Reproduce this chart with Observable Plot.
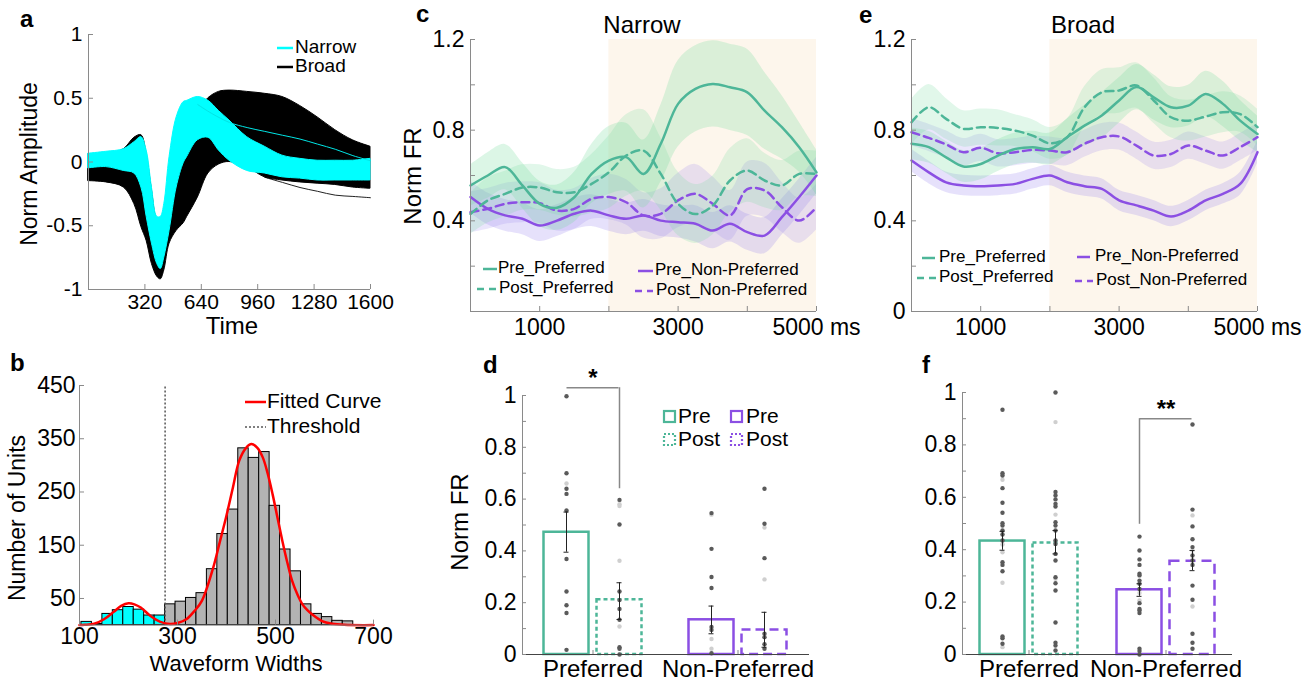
<!DOCTYPE html>
<html><head><meta charset="utf-8">
<script src="https://cdn.jsdelivr.net/npm/d3@7"></script>
<script src="https://cdn.jsdelivr.net/npm/@observablehq/plot@0.6"></script>
<style>
body{margin:0;background:#fff;}
#fig{position:relative;width:1316px;height:684px;overflow:hidden;background:#fff;}
</style></head><body><div id="fig"></div>
<script>
// ---------------- DATA ----------------
// Panel a: waveform envelopes (Norm Amplitude vs Time)
const waveT = [0,100,200,260,300,330,360,390,410,430,460,500,540,560,620,680,740,800,900,1000,1100,1200,1300,1400,1500,1600];
const broadUpper = [0.06,0.06,0.10,0.19,0.21,0.06,-0.22,-0.45,-0.46,-0.38,-0.15,0.20,0.30,0.32,0.40,0.50,0.55,0.56,0.55,0.535,0.51,0.44,0.35,0.25,0.17,0.12];
const broadLower = [-0.15,-0.16,-0.20,-0.33,-0.51,-0.62,-0.80,-0.90,-0.92,-0.85,-0.64,-0.54,-0.48,-0.43,-0.28,-0.09,-0.02,0.0,-0.04,-0.12,-0.145,-0.16,-0.17,-0.18,-0.20,-0.21];
const narrowUpper = [0.065,0.08,0.10,0.155,0.195,0.09,-0.20,-0.43,-0.43,-0.33,0.04,0.35,0.47,0.48,0.51,0.48,0.40,0.325,0.195,0.12,0.05,0.025,0.01,0.01,0.01,0.025];
const narrowLower = [-0.05,-0.04,-0.07,-0.09,-0.20,-0.43,-0.64,-0.80,-0.84,-0.75,-0.54,-0.20,-0.01,0.04,0.17,0.19,0.09,0.01,-0.07,-0.09,-0.12,-0.13,-0.145,-0.145,-0.145,-0.145];
const strayT = [620,700,800,900,1000,1100,1200,1300,1400,1500,1600];
const strayCyan = [0.45,0.38,0.31,0.27,0.24,0.21,0.18,0.14,0.10,0.05,0.01];
const strayBlackT = [1000,1100,1200,1300,1400,1500,1600];
const strayBlack = [-0.12,-0.16,-0.20,-0.23,-0.26,-0.27,-0.28];
const aXTicks = [320,640,960,1280,1600];
const aXLabels = ["320","640","960","1280","1600"];
const aYTicks = [-1,-0.5,0,0.5,1];
const aYLabels = ["-1","-0.5","0","0.5","1"];

// Panel b: histogram of waveform widths
const binEdges = [104,125.3,146.7,168,189.3,210.7,232,253.3,274.7,296,317.3,338.7,360,381.3,402.7,424,445.3,466.7,488,509.3,530.7,552,573.3,594.7,616,637.3,658.7];
const binCounts = [6,2,21,28,34,29,18,18,39,44,51,60,105,171,217,332,314,325,224,142,101,39,21,15,8,7];
const threshold = 274.7;
const fitX = [100,110,130,150,170,185,200,212,225,245,265,285,300,318,335,350,372,386,399,413,426,440,451,463,474,484,494,504,514,524,534,545,555,565,575,595,616,640,700];
const fitY = [0,0.6,2.5,11,25,36,41,39,33,17,6,2,4,11,27,46,105,155,202,258,309,333,340,333,315,285,246,202,158,118,83,57,39,28,20,7.5,2.5,0.5,0];
const bXTicks = [100,300,500,700];
const bYTicks = [50,150,250,350,450];

// Panels c, e: firing rate time courses
const timeMs = [0,250,500,750,1000,1250,1500,1750,2000,2250,2500,2750,3000,3250,3500,3750,4000,4250,4500,4750,5000];
const stimOn = 2000, stimOff = 5000;
const nPrePref = [0.556,0.60,0.637,0.556,0.475,0.458,0.504,0.607,0.666,0.681,0.607,0.74,0.916,0.982,1.004,0.989,0.967,0.886,0.813,0.725,0.614];
const nPostPref = [0.43,0.49,0.519,0.547,0.547,0.526,0.526,0.563,0.614,0.688,0.71,0.607,0.475,0.43,0.467,0.578,0.622,0.578,0.556,0.607,0.607];
const nPreNon = [0.505,0.453,0.424,0.409,0.379,0.401,0.431,0.445,0.424,0.409,0.424,0.401,0.394,0.387,0.357,0.387,0.35,0.335,0.416,0.505,0.60];
const nPostNon = [0.438,0.453,0.475,0.482,0.478,0.445,0.453,0.497,0.505,0.482,0.424,0.431,0.49,0.519,0.475,0.424,0.54,0.534,0.46,0.401,0.46];
const nPrePrefSem = [0.09,0.10,0.10,0.10,0.10,0.10,0.11,0.13,0.15,0.15,0.15,0.17,0.19,0.19,0.19,0.19,0.19,0.17,0.14,0.11,0.10];
const nPostPrefSem = [0.09,0.10,0.10,0.10,0.10,0.10,0.11,0.13,0.16,0.18,0.18,0.16,0.14,0.13,0.13,0.14,0.14,0.12,0.11,0.10,0.10];
const nPreNonSem = [0.07,0.07,0.07,0.07,0.07,0.07,0.07,0.07,0.07,0.07,0.07,0.07,0.07,0.08,0.08,0.08,0.08,0.08,0.08,0.08,0.08];
const nPostNonSem = [0.09,0.09,0.09,0.09,0.09,0.09,0.09,0.09,0.10,0.10,0.10,0.11,0.12,0.13,0.12,0.11,0.12,0.12,0.11,0.10,0.10];
const bPrePref = [0.74,0.725,0.68,0.64,0.651,0.688,0.717,0.725,0.717,0.769,0.82,0.865,0.931,0.99,0.945,0.901,0.908,0.96,0.916,0.842,0.783];
const bPostPref = [0.835,0.901,0.85,0.806,0.813,0.81,0.798,0.776,0.742,0.769,0.901,0.967,0.975,0.997,0.931,0.857,0.842,0.86,0.879,0.871,0.813];
const bPreNon = [0.666,0.614,0.57,0.556,0.553,0.556,0.563,0.585,0.6,0.57,0.553,0.541,0.49,0.468,0.445,0.419,0.445,0.49,0.519,0.563,0.703];
const bPostNon = [0.791,0.766,0.737,0.703,0.722,0.698,0.703,0.713,0.71,0.703,0.74,0.769,0.772,0.732,0.688,0.695,0.732,0.71,0.688,0.725,0.769];
const bPrePrefSem = [0.07,0.07,0.07,0.07,0.07,0.07,0.07,0.07,0.07,0.08,0.09,0.10,0.10,0.10,0.10,0.09,0.09,0.10,0.10,0.09,0.08];
const bPostPrefSem = [0.10,0.10,0.09,0.08,0.08,0.08,0.07,0.07,0.07,0.08,0.09,0.10,0.10,0.10,0.10,0.09,0.09,0.09,0.09,0.08,0.08];
const bPreNonSem = [0.05,0.05,0.045,0.045,0.045,0.045,0.045,0.045,0.045,0.045,0.045,0.045,0.045,0.045,0.045,0.045,0.045,0.045,0.045,0.05,0.05];
const bPostNonSem = [0.06,0.06,0.06,0.06,0.06,0.06,0.06,0.06,0.06,0.06,0.06,0.06,0.06,0.06,0.06,0.06,0.06,0.06,0.06,0.06,0.06];
const lineXTicks = [1000,2000,3000,4000,5000];
const lineXLabels = ["1000","","3000","","5000 ms"];
const lineYTicks = [0,0.2,0.4,0.6,0.8,1.0,1.2];
const cYLabels = ["","","0.4","","0.8","","1.2"];
const eYLabels = ["0","","0.4","","0.8","","1.2"];

// Panels d, f: bar charts
const groups = ["Preferred","Non-Preferred"];
const dPreMean = [0.472,0.134], dPostMean = [0.211,0.095];
const dPreLo = [0.395,0.08], dPreHi = [0.55,0.187];
const dPostLo = [0.135,0.028], dPostHi = [0.277,0.163];
const dPrePrefDots = [0.997,0.70,0.64,0.62,0.556,0.369,0.243,0.19,0.16,0.018];
const dPrePrefLight = [0.66];
const dPostPrefDots = [0.597,0.502,0.243,0.21,0.176,0.134,0.028,0.022,0.0];
const dPostPrefLight = [0.58,0.573,0.362,0.108];
const dPreNonDots = [0.546,0.408,0.299,0.257,0.106,0.095,0.005];
const dPreNonLight = [0.54,0.06,0.022];
const dPostNonDots = [0.64,0.505,0.372,0.08,0.067,0.04,0.022];
const dPostNonLight = [0.49,0.29];
const dSig = {y: 1.03, drop: 0.64, label: "*"};

const fPreMean = [0.433,0.247], fPostMean = [0.426,0.356];
const fPreLo = [0.398,0.222], fPreHi = [0.47,0.27];
const fPostLo = [0.384,0.32], fPostHi = [0.473,0.397];
const fPrePrefDots = [0.934,0.692,0.683,0.635,0.579,0.541,0.501,0.492,0.473,0.458,0.435,0.352,0.342,0.318,0.069,0.062,0.041];
const fPrePrefLight = [0.667,0.42,0.39,0.274,0.028];
const fPostPrefDots = [1.0,0.62,0.607,0.592,0.575,0.565,0.505,0.492,0.473,0.435,0.422,0.384,0.359,0.295,0.272,0.244,0.122,0.045,0.034,0.015];
const fPostPrefLight = [0.887,0.534,0.289];
const fPreNonDots = [0.45,0.397,0.363,0.342,0.308,0.302,0.282,0.27,0.25,0.196,0.174,0.168,0.158,0.022,0.013,0.0];
const fPreNonLight = [0.235,0.206];
const fPostNonDots = [0.878,0.553,0.489,0.44,0.41,0.378,0.359,0.342,0.263,0.209,0.079,0.045,0.022];
const fPostNonLight = [0.531,0.397,0.183];
const fSig = {y: 0.90, drop: 0.497, label: "**"};
const barYTicks = [0,0.1,0.2,0.3,0.4,0.5,0.6,0.7,0.8,0.9,1];
const barYLabels = ["0","","0.2","","0.4","","0.6","","0.8","","1"];

// ---------------- STYLE ----------------
const FONT = '"Liberation Sans", Arial, Helvetica, sans-serif';
const GREEN = "#4db698", PURPLE = "#8b4fe3", AXIS = "#8a8a8a";
const GREEN_BAND = "#78dca0", PURPLE_BAND = "#9682f0";
const fig = document.getElementById("fig");

function place(el, left, top) {
  el.style.position = "absolute"; el.style.left = left + "px"; el.style.top = top + "px";
  fig.appendChild(el);
}
function style(fs) { return {fontFamily: FONT, fontSize: fs + "px", color: "#000", overflow: "visible", background: "none"}; }
function fmt(ticks, labels) { const m = new Map(ticks.map((t, i) => [t, labels[i]])); return d => m.get(d) ?? ""; }
function axX(ticks, labels, o = {}) { return Plot.axisX(ticks, {tickSize: -5, tickPadding: 10, tickFormat: fmt(ticks, labels), stroke: AXIS, label: null, ...o}); }
function axY(ticks, labels, o = {}) { return Plot.axisY(ticks, {tickSize: -5, tickPadding: 11, tickFormat: fmt(ticks, labels), stroke: AXIS, label: null, ...o}); }

// ---------------- PANEL a ----------------
const aRows = waveT.map((t, i) => ({t, bu: broadUpper[i], bl: broadLower[i], nu: narrowUpper[i], nl: narrowLower[i]}));
const strayRows = strayT.map((t, i) => ({t, v: strayCyan[i]}));
const strayBlackRows = strayBlackT.map((t, i) => ({t, v: strayBlack[i]}));
place(Plot.plot({
  width: 400, height: 340, marginLeft: 88, marginRight: 30, marginTop: 34, marginBottom: 51,
  x: {domain: [0, 1600], label: null}, y: {domain: [-1, 1], label: null},
  style: style(21),
  marks: [
    Plot.line(strayBlackRows, {x: "t", y: "v", stroke: "#222", strokeWidth: 1, curve: "catmull-rom"}),
    Plot.areaY(aRows, {x: "t", y1: "bl", y2: "bu", fill: "#000", stroke: "#000", strokeWidth: 1, curve: "catmull-rom"}),
    Plot.areaY(aRows, {x: "t", y1: "nl", y2: "nu", fill: "#00ffff", stroke: "#00ffff", strokeWidth: 1, curve: "catmull-rom"}),
    Plot.line(strayRows, {x: "t", y: "v", stroke: "#00e5e5", strokeWidth: 1, curve: "catmull-rom"}),
    Plot.ruleX([aXTicks[0] - 320], {stroke: AXIS}),
    Plot.ruleY([aYTicks[0]], {stroke: AXIS}),
    axX(aXTicks, aXLabels),
    axY(aYTicks, aYLabels)
  ]
}), 0, 0);

// ---------------- PANEL b ----------------
const binRows = binCounts.map((c, i) => ({x1: binEdges[i], x2: binEdges[i + 1], c}));
const fitRows = fitX.map((x, i) => ({x, y: fitY[i]}));
place(Plot.plot({
  width: 400, height: 344, marginLeft: 79, marginRight: 27, marginTop: 45, marginBottom: 59.4,
  x: {domain: [100, 700], label: null}, y: {domain: [0, 450], label: null},
  style: style(23),
  marks: [
    Plot.rectY(binRows.filter(d => d.x2 <= threshold + 0.5), {x1: "x1", x2: "x2", y: "c", fill: "#00ffff", stroke: "#000", strokeWidth: 1}),
    Plot.rectY(binRows.filter(d => d.x2 > threshold + 0.5), {x1: "x1", x2: "x2", y: "c", fill: "#b3b3b3", stroke: "#000", strokeWidth: 1}),
    Plot.ruleX([threshold], {y1: 0, y2: 450, stroke: "#555", strokeWidth: 1.5, strokeDasharray: "2,2"}),
    Plot.line(fitRows, {x: "x", y: "y", stroke: "#ff0000", strokeWidth: 2.5, curve: "catmull-rom"}),
    Plot.ruleX([100], {stroke: AXIS}),
    Plot.ruleY([0], {stroke: AXIS}),
    axX(bXTicks, bXTicks.map(String), {tickPadding: 8}),
    axY(bYTicks, bYTicks.map(String), {tickPadding: 9})
  ]
}), 0, 340);

// ---------------- PANELS c, e ----------------
function series(vals, sems) { return timeMs.map((t, i) => ({t, v: vals[i], lo: vals[i] - sems[i], hi: vals[i] + sems[i]})); }
function linePanel(prePref, postPref, preNon, postNon, yLabels, ml, mr, w) {
  const curve = "catmull-rom";
  return Plot.plot({
    width: w, height: 340, marginLeft: ml, marginRight: mr, marginTop: 39, marginBottom: 29,
    x: {domain: [0, 5000], label: null}, y: {domain: [0, 1.2], label: null},
    style: style(23),
    marks: [
      Plot.rect([{x1: stimOn, x2: stimOff}], {x1: "x1", x2: "x2", y1: 0, y2: 1.2, fill: "#fdf6ec"}),
      Plot.areaY(preNon, {x: "t", y1: "lo", y2: "hi", fill: PURPLE_BAND, fillOpacity: 0.24, curve}),
      Plot.areaY(postNon, {x: "t", y1: "lo", y2: "hi", fill: PURPLE_BAND, fillOpacity: 0.2, curve}),
      Plot.areaY(prePref, {x: "t", y1: "lo", y2: "hi", fill: GREEN_BAND, fillOpacity: 0.26, curve}),
      Plot.areaY(postPref, {x: "t", y1: "lo", y2: "hi", fill: GREEN_BAND, fillOpacity: 0.22, curve}),
      Plot.line(preNon, {x: "t", y: "v", stroke: PURPLE, strokeWidth: 2.5, curve}),
      Plot.line(postNon, {x: "t", y: "v", stroke: PURPLE, strokeWidth: 2.5, strokeDasharray: "8,5", curve}),
      Plot.line(prePref, {x: "t", y: "v", stroke: GREEN, strokeWidth: 2.5, curve}),
      Plot.line(postPref, {x: "t", y: "v", stroke: GREEN, strokeWidth: 2.5, strokeDasharray: "8,5", curve}),
      Plot.ruleX([0], {stroke: AXIS}),
      Plot.ruleY([0], {stroke: AXIS}),
      axX(lineXTicks, lineXLabels, {tickPadding: 12}),
      axY(lineYTicks, yLabels)
    ]
  });
}
place(linePanel(series(nPrePref, nPrePrefSem), series(nPostPref, nPostPrefSem), series(nPreNon, nPreNonSem), series(nPostNon, nPostNonSem), cYLabels, 70, 24, 440), 400, 0);
place(linePanel(series(bPrePref, bPrePrefSem), series(bPostPref, bPostPrefSem), series(bPreNon, bPreNonSem), series(bPostNon, bPostNonSem), eYLabels, 71, 59, 476), 840, 0);

// ---------------- PANELS d, f ----------------
function barPanel(c) {
  const W = 110, off = 26.5, half = 23, cap = 3;
  const rows = (means, lo, hi) => groups.map((g, i) => ({g, m: means[i], lo: lo[i], hi: hi[i]}));
  const pre = rows(c.preMean, c.preLo, c.preHi), post = rows(c.postMean, c.postLo, c.postHi);
  const preIns = {insetLeft: W / 2 - off - half, insetRight: W / 2 + off - half};
  const postIns = {insetLeft: W / 2 + off - half, insetRight: W / 2 - off - half};
  const dots = (vals, g, dx, fill) => Plot.dot(vals.map(v => ({g, v})), {x: "g", y: "v", dx, r: 2.2, fill, stroke: "none"});
  const marks = [
    Plot.barY([pre[0]], {x: "g", y: "m", ...preIns, fill: "none", stroke: GREEN, strokeWidth: 2.5}),
    Plot.barY([post[0]], {x: "g", y: "m", ...postIns, fill: "none", stroke: GREEN, strokeWidth: 2.5, strokeDasharray: "4,3"}),
    Plot.barY([pre[1]], {x: "g", y: "m", ...preIns, fill: "none", stroke: PURPLE, strokeWidth: 2.5}),
    Plot.barY([post[1]], {x: "g", y: "m", ...postIns, fill: "none", stroke: PURPLE, strokeWidth: 2.5, strokeDasharray: c.postNonDash}),
    dots(c.prePrefLight, groups[0], -off, "#cfcfcf"), dots(c.postPrefLight, groups[0], off, "#cfcfcf"),
    dots(c.preNonLight, groups[1], -off, "#cfcfcf"), dots(c.postNonLight, groups[1], off, "#cfcfcf"),
    dots(c.prePrefDots, groups[0], -off, "#5a5a5a"), dots(c.postPrefDots, groups[0], off, "#5a5a5a"),
    dots(c.preNonDots, groups[1], -off, "#5a5a5a"), dots(c.postNonDots, groups[1], off, "#5a5a5a"),
    Plot.ruleX(pre, {x: "g", y1: "lo", y2: "hi", dx: -off, stroke: "#222", strokeWidth: 1}),
    Plot.ruleX(post, {x: "g", y1: "lo", y2: "hi", dx: off, stroke: "#222", strokeWidth: 1}),
    Plot.tickY(pre, {x: "g", y: "lo", insetLeft: W / 2 - off - cap, insetRight: W / 2 + off - cap, stroke: "#222"}),
    Plot.tickY(pre, {x: "g", y: "hi", insetLeft: W / 2 - off - cap, insetRight: W / 2 + off - cap, stroke: "#222"}),
    Plot.tickY(post, {x: "g", y: "lo", insetLeft: W / 2 + off - cap, insetRight: W / 2 - off - cap, stroke: "#222"}),
    Plot.tickY(post, {x: "g", y: "hi", insetLeft: W / 2 + off - cap, insetRight: W / 2 - off - cap, stroke: "#222"}),
    // significance bracket
    Plot.tickY([{g: c.sigGroup, y: c.sig.y}], {x: "g", y: "y", insetLeft: W / 2 - off, insetRight: W / 2 - off, stroke: "#888", strokeWidth: 1.5}),
    Plot.ruleX([{g: c.sigGroup, y1: c.sig.drop, y2: c.sig.y}], {x: "g", y1: "y1", y2: "y2", dx: c.sigSide * off, stroke: "#888", strokeWidth: 1.5}),
    Plot.text([{g: c.sigGroup, y: c.sig.y, s: c.sig.label}], {x: "g", y: "y", text: "s", dy: -9, fontSize: 24, fontWeight: "bold"}),
    Plot.ruleY([0], {stroke: "#444"}),
    Plot.axisX(groups, {tickSize: -4, tickPadding: 9, stroke: AXIS, label: null, fontSize: 24}),
    axY(barYTicks, barYLabels, {tickSize: -4, tickPadding: 10}),
    Plot.frame({anchor: "left", stroke: AXIS})
  ];
  return Plot.plot({
    width: c.w, height: 344, marginLeft: 122, marginRight: c.mr, marginTop: c.mt, marginBottom: 30,
    x: {type: "band", domain: groups, paddingInner: c.pi, paddingOuter: c.po, label: null},
    y: {domain: [0, 1], label: null},
    style: style(23),
    marks
  });
}
place(barPanel({w: 440, mr: 31, mt: 55, pi: 0.247, po: 0.1065,
  preMean: dPreMean, postMean: dPostMean, preLo: dPreLo, preHi: dPreHi, postLo: dPostLo, postHi: dPostHi,
  prePrefDots: dPrePrefDots, prePrefLight: dPrePrefLight, postPrefDots: dPostPrefDots, postPrefLight: dPostPrefLight,
  preNonDots: dPreNonDots, preNonLight: dPreNonLight, postNonDots: dPostNonDots, postNonLight: dPostNonLight,
  sig: dSig, sigGroup: groups[0], sigSide: 1, postNonDash: "9,5"}), 400, 340);
place(barPanel({w: 476, mr: 84, mt: 52, pi: 0.203, po: 0.08,
  preMean: fPreMean, postMean: fPostMean, preLo: fPreLo, preHi: fPreHi, postLo: fPostLo, postHi: fPostHi,
  prePrefDots: fPrePrefDots, prePrefLight: fPrePrefLight, postPrefDots: fPostPrefDots, postPrefLight: fPostPrefLight,
  preNonDots: fPreNonDots, preNonLight: fPreNonLight, postNonDots: fPostNonDots, postNonLight: fPostNonLight,
  sig: fSig, sigGroup: groups[1], sigSide: -1, postNonDash: "10,6"}), 840, 340);

// ---------------- OVERLAY: labels, titles, legends ----------------
const ov = d3.create("svg").attr("width", 1316).attr("height", 684)
  .style("position", "absolute").style("left", "0px").style("top", "0px")
  .style("font-family", FONT).style("pointer-events", "none");
function txt(x, y, s, size, o = {}) {
  const t = ov.append("text").attr("x", x).attr("y", y).attr("font-size", size)
    .attr("dominant-baseline", o.baseline || "middle").attr("text-anchor", o.anchor || "start")
    .attr("font-weight", o.weight || "normal").attr("fill", "#000").text(s);
  if (o.rotate) t.attr("transform", `rotate(-90 ${x} ${y})`);
  return t;
}
function seg(x1, x2, y, color, w, dash) {
  ov.append("line").attr("x1", x1).attr("x2", x2).attr("y1", y).attr("y2", y)
    .attr("stroke", color).attr("stroke-width", w).attr("stroke-dasharray", dash || null);
}
function sq(x, y, s, color, dash) {
  ov.append("rect").attr("x", x).attr("y", y).attr("width", s).attr("height", s)
    .attr("fill", "none").attr("stroke", color).attr("stroke-width", 2.2).attr("stroke-dasharray", dash || null);
}
// panel letters
txt(20, 27, "a", 24, {baseline: "alphabetic", weight: "bold"});
txt(10, 371, "b", 24, {baseline: "alphabetic", weight: "bold"});
txt(416, 22, "c", 24, {baseline: "alphabetic", weight: "bold"});
txt(859, 23, "e", 24, {baseline: "alphabetic", weight: "bold"});
txt(483, 373, "d", 24, {baseline: "alphabetic", weight: "bold"});
txt(922, 373, "f", 24, {baseline: "alphabetic", weight: "bold"});
// axis labels
txt(232, 328, "Time", 24, {anchor: "middle"});
txt(31, 164, "Norm Amplitude", 23, {anchor: "middle", rotate: true});
txt(236, 665, "Waveform Widths", 22, {anchor: "middle"});
txt(19, 518, "Number of Units", 23, {anchor: "middle", rotate: true});
txt(415, 176, "Norm FR", 24, {anchor: "middle", rotate: true});
txt(462, 522, "Norm FR", 24, {anchor: "middle", rotate: true});
// titles
txt(642, 27, "Narrow", 24, {anchor: "middle"});
txt(1083, 27, "Broad", 24, {anchor: "middle"});
// legend a
seg(277, 293, 48, "#00ffff", 2.5); txt(295, 48, "Narrow", 19);
seg(277, 293, 67, "#000", 2.5); txt(295, 67, "Broad", 19);
// legend b
seg(245, 266, 402, "#ff0000", 2.5); txt(267, 402, "Fitted Curve", 21);
seg(245, 266, 427, "#555", 1.5, "2,2"); txt(267, 427, "Threshold", 21);
// legend c
seg(483, 497, 269, GREEN, 2.5); txt(498, 269, "Pre_Preferred", 17);
seg(477, 497, 289, GREEN, 2.5, "7,5"); txt(499, 289, "Post_Preferred", 17);
seg(638, 653, 271, PURPLE, 2.5); txt(655, 271, "Pre_Non-Preferred", 17);
seg(635, 653, 291, PURPLE, 2.5, "7,5"); txt(656, 291, "Post_Non-Preferred", 17);
// legend e
seg(922, 935, 258, GREEN, 2.5); txt(939, 258, "Pre_Preferred", 17);
seg(917, 937, 278, GREEN, 2.5, "7,5"); txt(939, 278, "Post_Preferred", 17);
seg(1077, 1090, 257, PURPLE, 2.5); txt(1095, 257, "Pre_Non-Preferred", 17);
seg(1075, 1093, 281, PURPLE, 2.5, "7,5"); txt(1096, 281, "Post_Non-Preferred", 17);
// legend d
sq(664, 411, 11, GREEN); txt(678, 417, "Pre", 21);
sq(664, 434, 11, GREEN, "2,2"); txt(678, 440, "Post", 21);
sq(731, 411, 11, PURPLE); txt(746, 417, "Pre", 21);
sq(731, 434, 11, PURPLE, "2,2"); txt(746, 440, "Post", 21);
fig.appendChild(ov.node());
</script></body></html>
